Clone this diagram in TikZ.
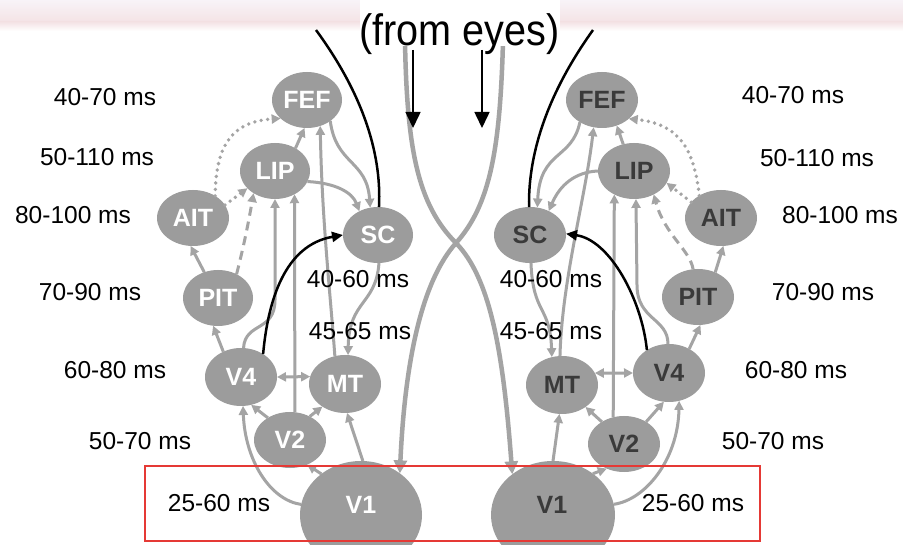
\documentclass[tikz,border=0pt]{standalone}
\usepackage{fontspec}
\setmainfont{Liberation Sans}
\usetikzlibrary{arrows.meta,shapes.geometric}
\definecolor{nodegray}{HTML}{9C9C9C}
\definecolor{linegray}{HTML}{A4A4A4}
\definecolor{darktext}{HTML}{3A3A3A}
\definecolor{bandtop}{HTML}{F8F3F8}
\definecolor{bandmid}{HTML}{F4E3E5}
\definecolor{redbox}{HTML}{E53935}
\begin{document}
\begin{tikzpicture}[x=1pt,y=-1pt,
  area/.style={ellipse, fill=nodegray, inner sep=0pt, outer sep=0pt,
    minimum width=72pt, minimum height=56pt,
    font=\fontsize{25}{25}\selectfont\bfseries},
  leftarea/.style={area, text=white},
  rightarea/.style={area, text=darktext},
  tip/.style={-{Triangle[length=9pt,width=9pt]}},
  conn/.style={draw=linegray, line width=3pt, tip},
  dconn/.style={draw=linegray, line width=3pt, {Triangle[length=9pt,width=9pt]}-{Triangle[length=9pt,width=9pt]}},
  dotconn/.style={draw=linegray, line width=3.8pt, line cap=round, dash pattern=on 0pt off 6.5pt, tip},
  dashconn/.style={draw=linegray, line width=3pt, dash pattern=on 9pt off 6pt, tip},
  blk/.style={draw=black, line width=2.5pt},
  blkarrow/.style={blk, -{Triangle[length=11pt,width=10pt]}},
  chiasm/.style={draw=linegray, line width=4.5pt, -{Triangle[length=13pt,width=13pt]}},
  eyearrow/.style={draw=black, line width=1.6pt, -{Triangle[length=16pt,width=15pt]}},
  lat/.style={font=\fontsize{24.5}{24.5}\selectfont, text=black, inner sep=0pt},
]
\useasboundingbox (0,0) rectangle (903,545);
\clip (0,0) rectangle (903,545);
\fill[white] (0,0) rectangle (903,545);
% top band
\shade[top color=bandtop, bottom color=bandmid] (0,0) rectangle (903,22);
\shade[top color=bandmid, bottom color=white] (0,22) rectangle (903,31);

% nodes left
\node[leftarea, minimum width=70pt] (lFEF) at (307,100) {FEF};
\node[leftarea, minimum width=70pt] (lLIP) at (275,171) {LIP};
\node[leftarea] (lAIT) at (193,218) {AIT};
\node[leftarea, minimum width=70pt] (lSC) at (378,235) {SC};
\node[leftarea, minimum width=70pt] (lPIT) at (218,298) {PIT};
\node[leftarea, minimum height=58pt] (lV4) at (241,377) {V4};
\node[leftarea, minimum height=58pt] (lMT) at (345,384) {MT};
\node[leftarea] (lV2) at (290,440) {V2};
\node[area, minimum width=122pt, minimum height=108pt] (lV1) at (361,515) {};
% nodes right
\node[rightarea] (rFEF) at (602,100) {FEF};
\node[rightarea] (rLIP) at (634,171) {LIP};
\node[rightarea] (rAIT) at (721,218) {AIT};
\node[rightarea] (rSC) at (530,235) {SC};
\node[rightarea] (rPIT) at (698,297) {PIT};
\node[rightarea, minimum height=58pt] (rV4) at (669,373) {V4};
\node[rightarea, minimum height=58pt] (rMT) at (562,385) {MT};
\node[rightarea] (rV2) at (624,444) {V2};
\node[area, minimum width=124pt, minimum height=108pt] (rV1) at (553,515) {};
\node[font=\fontsize{25}{25}\selectfont\bfseries, text=white, inner sep=0pt] (lV1t) at (361,505) {V1};
\node[font=\fontsize{25}{25}\selectfont\bfseries, text=darktext, inner sep=0pt] (rV1t) at (552,505) {V1};

% coordinates of free ends
\coordinate (chL) at (405,42);
\coordinate (chR) at (503,42);
\coordinate (cross) at (456,243);
\coordinate (lTop) at (316,30);
\coordinate (rTop) at (593,30);
\coordinate (eyeA) at (413,50);
\coordinate (eyeAend) at (413,128);
\coordinate (eyeB) at (482,50);
\coordinate (eyeBend) at (482,128);

% chiasm
\draw[chiasm] (chL) .. controls (407,150) and (418,205) .. (cross) .. controls (490,278) and (503,350) .. (rV1.135);
\draw[chiasm] (chR) .. controls (500,150) and (490,205) .. (cross) .. controls (422,281) and (405,360) .. (lV1.47);

% left connectors
\draw[dotconn] (lAIT.45) .. controls (216,150) and (228,122) .. (lFEF.215);
\draw[dotconn] (lAIT.22) -- (lLIP.212);
\draw[dashconn] (lPIT.52) .. controls (244,245) and (248,225) .. (lLIP.226);
\draw[conn] (lPIT.118) -- (lAIT.-95);
\draw[conn] (lV4.125) -- (lPIT.-100);
\draw[conn] (lV4.85) .. controls (245,322) and (275,332) .. (275,300) -- (lLIP.-90);
\draw[conn] (lV2.80) -- (lLIP.-50);
\draw[conn] (lMT.110) .. controls (330,290) and (322,220) .. (lFEF.-63);
\draw[conn] (lLIP.48) -- (lFEF.-95);
\draw[conn] (lFEF.-42) .. controls (336,165) and (367,160) .. (lSC.106);
\draw[conn] (lLIP.-18) .. controls (335,183) and (352,192) .. (lSC.128);
\draw[conn] (lSC.-88) .. controls (376,305) and (349,300) .. (lMT.84);
\draw[dconn] (lV4.0) -- (lMT.168);
\draw[conn] (lV2.135) -- (lV4.-70);
\draw[conn] (lV2.50) -- (lMT.225);
\draw[conn] (lV1.170) .. controls (270,500) and (245,460) .. (lV4.-86);
\draw[conn] (lV1.134) -- (lV2.-55);
\draw[conn] (lV1.88) -- (lMT.-86);
\draw[blk] (lTop) .. controls (360,90) and (382,150) .. (lSC.88);
\draw[blkarrow] (lV4.46) .. controls (268,300) and (285,245) .. (lSC.180);

% right connectors
\draw[dotconn] (rAIT.134) .. controls (694,150) and (680,124) .. (rFEF.-35);
\draw[dotconn] (rAIT.152) -- (rLIP.-20);
\draw[dashconn] (rPIT.100) .. controls (690,250) and (665,235) .. (rLIP.-50);
\draw[conn] (rPIT.55) -- (rAIT.-85);
\draw[conn] (rV4.50) -- (rPIT.-85);
\draw[conn] (rV4.92) .. controls (668,318) and (637,320) .. (637,285) -- (rLIP.-86);
\draw[conn] (rV2.112) -- (rLIP.230);
\draw[conn] (rMT.94) .. controls (562,280) and (585,200) .. (rFEF.-107);
\draw[conn] (rLIP.112) -- (rFEF.-60);
\draw[conn] (rFEF.225) .. controls (572,160) and (540,150) .. (rSC.75);
\draw[conn] (rLIP.180) .. controls (575,172) and (560,185) .. (rSC.52);
\draw[conn] (rSC.-88) .. controls (533,315) and (550,305) .. (rMT.110);
\draw[dconn] (rV4.180) -- (rMT.20);
\draw[conn] (rV2.45) -- (rV4.-100);
\draw[conn] (rV2.135) -- (rMT.-43);
\draw[conn] (rV1.10) .. controls (645,500) and (678,460) .. (rV4.-70);
\draw[conn] (rV1.46) -- (rV2.-125);
\draw[conn] (rV1.90) -- (rMT.-95);
\draw[blk] (rTop) .. controls (550,90) and (528,150) .. (rSC.92);
\draw[blkarrow] (rV4.134) .. controls (642,300) and (610,240) .. (rSC.2);

% from eyes
\fill[white] (360,0) rectangle (560,46);
\node[font=\fontsize{44}{44}\selectfont, anchor=base, inner sep=0pt] (eyes) at (459.5,46) {\scalebox{0.9}[1]{(from eyes)}};
\draw[eyearrow] (eyeA) -- (eyeAend);
\draw[eyearrow] (eyeB) -- (eyeBend);

% latency labels
\node[lat] (l1) at (105,97) {40-70 ms};
\node[lat] (l2) at (97,157) {50-110 ms};
\node[lat] (l3) at (73,215) {80-100 ms};
\node[lat] (l4) at (90,292) {70-90 ms};
\node[lat] (l5) at (115,370) {60-80 ms};
\node[lat] (l6) at (140,441) {50-70 ms};
\node[lat] (l7) at (219,503) {25-60 ms};
\node[lat] (r1) at (793,95) {40-70 ms};
\node[lat] (r2) at (817,158) {50-110 ms};
\node[lat] (r3) at (840,215) {80-100 ms};
\node[lat] (r4) at (823,292) {70-90 ms};
\node[lat] (r5) at (796,370) {60-80 ms};
\node[lat] (r6) at (773,441) {50-70 ms};
\node[lat] (r7) at (693,503) {25-60 ms};
\node[lat] (c1) at (358,279) {40-60 ms};
\node[lat] (c2) at (360,331) {45-65 ms};
\node[lat] (c3) at (551,279) {40-60 ms};
\node[lat] (c4) at (551,331) {45-65 ms};

% red frame
\draw[redbox, line width=2pt] (145,466) rectangle (760,541);
\end{tikzpicture}
\end{document}
